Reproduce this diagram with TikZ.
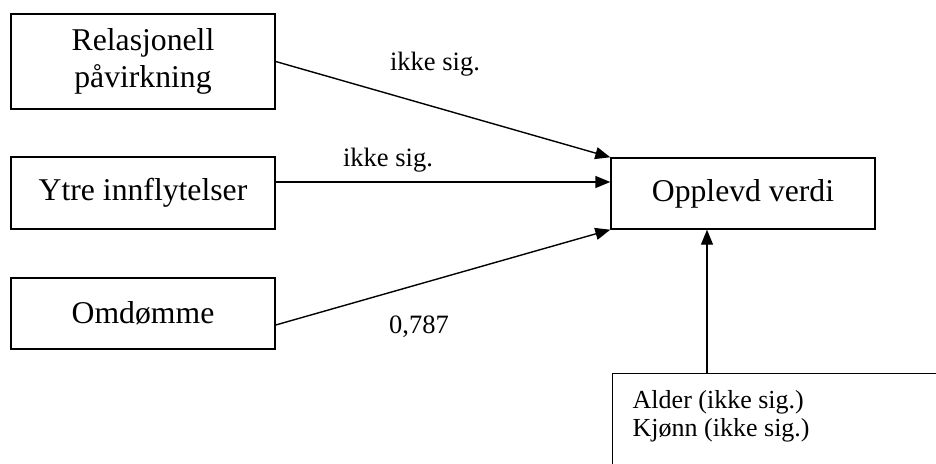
\documentclass[tikz,border=0pt]{standalone}
\usepackage{fontspec}
\setmainfont{Liberation Serif}
\usetikzlibrary{arrows.meta}
\begin{document}
\begin{tikzpicture}[x=1pt,y=-1pt,
  box/.style={draw, line width=1.4pt, rectangle, minimum width=264pt, inner sep=0pt, align=center, font=\fontsize{31.7}{37}\selectfont},
  lbl/.style={font=\fontsize{26.5}{28}\selectfont, inner sep=0pt},
  conn/.style={line width=1.4pt, -{Triangle[length=15pt,width=12pt]}}]
\clip (0,0) rectangle (936,463);
\useasboundingbox (0,0) rectangle (936,463);
\node[box, minimum height=95pt] (b1) at (143,61.5) {Relasjonell\\påvirkning};
\node[box, minimum height=72pt] (b2) at (143,193) {Ytre innflytelser};
\node[box, minimum height=71pt] (b3) at (143,313.5) {Omdømme};
\node[box, minimum height=71pt] (ov) at (743,193.5) {Opplevd verdi};
\node[draw, line width=1.4pt, anchor=north west, inner xsep=20pt, inner ysep=17pt,
      font=\fontsize{26}{28}\selectfont] (ctrl) at (612,373)
  {\parbox[t][120pt][t]{330pt}{Alder (ikke sig.)\\Kjønn (ikke sig.)}};
\draw[conn] (b1.east) -- (ov.north west);
\draw[conn] ([yshift=11pt]b2.east) -- ([yshift=11pt]b2.east -| ov.west);
\draw[conn] ([yshift=-11.5pt]b3.east) -- (ov.south west);
\draw[conn] ([xshift=95pt]ctrl.north west) -- ([xshift=95pt]ctrl.north west |- ov.south);
\node[lbl] (l1) at (435,64) {ikke sig.};
\node[lbl] (l2) at (388,160) {ikke sig.};
\node[lbl] (l3) at (419,327) {0,787};
\end{tikzpicture}
\end{document}
